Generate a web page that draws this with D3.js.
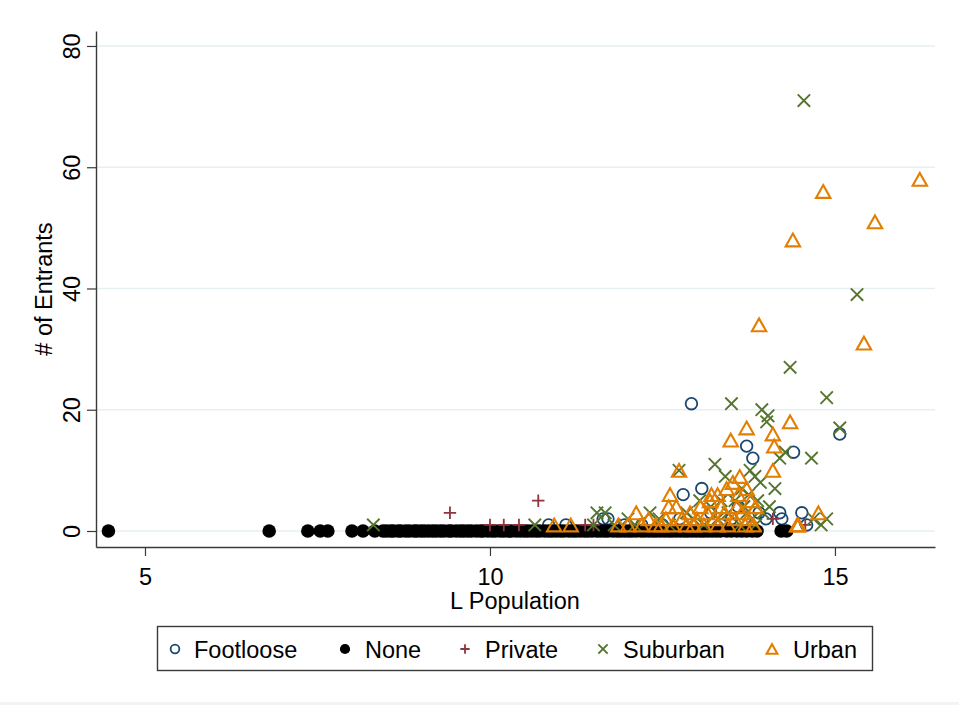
<!DOCTYPE html>
<html>
<head>
<meta charset="utf-8">
<script src="https://cdn.jsdelivr.net/npm/d3@7"></script>
<style>
  html, body { margin: 0; padding: 0; background: #ffffff; }
  svg { display: block; font-family: "Liberation Sans", Arial, Helvetica, sans-serif; }
</style>
</head>
<body>
<svg id="chart" width="959" height="705"></svg>
<script>
// Categories in drawing order
const categories = ["Footloose", "None", "Private", "Suburban", "Urban"];

// [log population, number of entrants]
const footloose = [
  [10.85,1],[11.1,1],[11.64,2],[11.71,2],[11.95,1],[12.2,1],[12.5,1],[12.75,2],
  [12.8,6],[12.92,21],[13.0,1],[13.07,7],[13.2,3],[13.35,1],[13.5,2],[13.6,4],
  [13.72,14],[13.81,12],[13.9,3],[14.0,2],[14.2,3],[14.23,2],[14.4,13],[14.52,3],
  [14.59,1],[15.07,16]
];

// "None" markets all have zero entrants
const noneX = [
  4.47, 6.8, 7.36, 7.54, 7.65, 8.0, 8.16, 8.33,
  8.45, 8.5, 8.56, 8.6, 8.67, 8.71, 8.78, 8.83, 8.9, 8.94, 9.0, 9.05, 9.11, 9.17,
  9.22, 9.28, 9.33, 9.4, 9.44, 9.51, 9.57, 9.62, 9.68, 9.73, 9.8, 9.86, 9.9, 9.97,
  10.03, 10.08, 10.15, 10.2, 10.26, 10.31, 10.38, 10.44, 10.5, 10.55, 10.61, 10.67,
  10.72, 10.79, 10.85, 10.9, 10.96, 11.02, 11.07, 11.14, 11.2, 11.25, 11.31, 11.37,
  11.42, 11.48, 11.55, 11.6, 11.66, 11.71, 11.78, 11.84, 11.89, 11.95, 12.01, 12.06,
  12.12, 12.19, 12.24, 12.3, 12.36, 12.41, 12.47, 12.53, 12.59, 12.64, 12.7, 12.76,
  12.82, 12.87, 12.93, 12.99, 13.05, 13.1, 13.16, 13.22, 13.28, 13.34, 13.43, 13.5,
  13.58, 13.65, 13.72, 13.8, 13.87, 14.22, 14.3
];

const privateMk = [
  [9.42,3],[10.0,1],[10.2,1],[10.42,1],[10.7,5],[11.38,1],[11.5,1],[14.1,2],[14.57,1]
];

const suburban = [
  [8.31,1],[10.65,1],[11.5,1],[11.55,3],[11.67,3],[11.8,1],[12.0,2],[12.1,1],
  [12.32,3],[12.45,2],[12.6,1],[12.74,10],[12.85,3],[12.95,2],[13.04,5],[13.1,1],
  [13.2,4],[13.26,11],[13.3,2],[13.35,5],[13.41,9],[13.45,3],[13.5,21],[13.55,5],
  [13.62,1],[13.65,7],[13.68,4],[13.72,3],[13.75,6],[13.77,10],[13.8,2],[13.84,9],
  [13.85,1],[13.88,5],[13.92,8],[13.94,20],[13.96,3],[14.01,18],[14.03,19],[14.05,4],
  [14.13,7],[14.2,12],[14.28,13],[14.35,27],[14.55,71],[14.66,12],[14.69,2],[14.8,1],
  [14.88,2],[14.88,22],[15.07,17],[15.32,39]
];

const urban = [
  [10.93,1],[11.17,1],[11.86,1],[12.0,1],[12.12,3],[12.2,1],[12.3,2],[12.4,1],
  [12.48,1],[12.55,2],[12.59,4],[12.61,6],[12.65,1],[12.7,4],[12.74,10],[12.78,2],
  [12.85,1],[12.9,3],[12.95,1],[13.0,2],[13.05,4],[13.1,1],[13.15,3],[13.19,5],
  [13.21,6],[13.25,2],[13.3,1],[13.3,6],[13.35,4],[13.4,3],[13.43,7],[13.45,1],
  [13.49,15],[13.52,8],[13.55,2],[13.58,4],[13.6,6],[13.62,9],[13.65,3],[13.7,1],
  [13.72,7],[13.72,17],[13.74,2],[13.78,5],[13.82,1],[13.85,4],[13.9,34],[14.1,10],
  [14.1,16],[14.12,14],[14.35,18],[14.39,48],[14.45,1],[14.47,1],[14.76,3],[14.83,56],
  [15.42,31],[15.58,51],[16.23,58]
];

const xTicks = [5, 10, 15];
const yTicks = [0, 20, 40, 60, 80];

const colors = {
  Footloose: "#1a476f",
  None: "#000000",
  Private: "#90353b",
  Suburban: "#55752f",
  Urban: "#e37e00"
};

const svg = d3.select("#chart");

// light strip along the bottom edge
svg.append("rect").attr("x", 0).attr("y", 702).attr("width", 959).attr("height", 3).attr("fill", "#f3f3f3");

const x = d3.scaleLinear().domain([4.29, 16.45]).range([96, 935]);
const y = d3.scaleLinear().domain([-2.64, 82.47]).range([547, 31]);

// horizontal grid
svg.append("g").selectAll("line").data(yTicks).join("line")
  .attr("x1", x.range()[0]).attr("x2", x.range()[1])
  .attr("y1", d => y(d)).attr("y2", d => y(d))
  .attr("stroke", "#e6eff2").attr("stroke-width", 1.6);

// axes
const yAxis = svg.append("g").attr("transform", "translate(96,0)")
  .call(d3.axisLeft(y).tickValues(yTicks).tickSize(9).tickSizeOuter(0).tickFormat(d3.format("d")));
yAxis.select(".domain").attr("stroke", "#3a3a3a").attr("stroke-width", 1.4);
yAxis.selectAll(".tick line").attr("stroke", "#3a3a3a").attr("stroke-width", 1.2);
yAxis.selectAll(".tick text")
  .attr("transform", "rotate(-90)")
  .attr("x", 0).attr("y", -16).attr("dy", null)
  .attr("text-anchor", "middle")
  .attr("font-size", 23.5).attr("fill", "#000")
  .attr("font-family", "Liberation Sans, Arial, sans-serif");

const xAxis = svg.append("g").attr("transform", "translate(0,547)")
  .call(d3.axisBottom(x).tickValues(xTicks).tickSize(9).tickSizeOuter(0).tickFormat(d3.format("d")));
xAxis.select(".domain").attr("stroke", "#3a3a3a").attr("stroke-width", 1.4);
xAxis.selectAll(".tick line").attr("stroke", "#3a3a3a").attr("stroke-width", 1.2);
xAxis.selectAll(".tick text")
  .attr("y", 38).attr("dy", null)
  .attr("font-size", 23.5).attr("fill", "#000")
  .attr("font-family", "Liberation Sans, Arial, sans-serif");

// axis titles
svg.append("text")
  .attr("transform", "translate(52,289) rotate(-90)")
  .attr("text-anchor", "middle").attr("font-size", 23.5).attr("fill", "#000")
  .text("# of Entrants");
svg.append("text")
  .attr("x", 515).attr("y", 609)
  .attr("text-anchor", "middle").attr("font-size", 23.5).attr("fill", "#000")
  .text("L Population");

// marker shapes
function drawMarker(g, kind, s) {
  const c = colors[kind];
  if (kind === "Footloose") {
    g.append("circle").attr("r", 5.8 * s).attr("fill", "none").attr("stroke", c).attr("stroke-width", 1.8);
  } else if (kind === "None") {
    g.append("circle").attr("r", 6.8 * s).attr("fill", c);
  } else if (kind === "Private") {
    const h = 6.2 * s;
    g.append("path").attr("d", `M${-h},0H${h}M0,${-h}V${h}`).attr("stroke", c).attr("stroke-width", 1.8).attr("fill", "none");
  } else if (kind === "Suburban") {
    const h = 6.2 * s;
    g.append("path").attr("d", `M${-h},${-h}L${h},${h}M${-h},${h}L${h},${-h}`).attr("stroke", c).attr("stroke-width", 1.9).attr("fill", "none");
  } else {
    const w = 7.2 * s, hh = 6.4 * s;
    g.append("path").attr("d", `M0,${-hh}L${w},${hh}L${-w},${hh}Z`).attr("stroke", c).attr("stroke-width", 2.1).attr("fill", "none").attr("stroke-linejoin", "miter");
  }
}

const seriesData = {
  Footloose: footloose,
  None: noneX.map(v => [v, 0]),
  Private: privateMk,
  Suburban: suburban,
  Urban: urban
};

const plot = svg.append("g");
categories.forEach(cat => {
  const g = plot.append("g").attr("class", "series-" + cat);
  seriesData[cat].forEach(d => {
    const m = g.append("g").attr("transform", `translate(${x(d[0])},${y(d[1])})`);
    drawMarker(m, cat, 1);
  });
});

// legend
const legend = svg.append("g");
legend.append("rect").attr("x", 157.5).attr("y", 626.5).attr("width", 715).attr("height", 44)
  .attr("fill", "#fff").attr("stroke", "#3a3a3a").attr("stroke-width", 1.4);
const legendPos = [
  { cat: "Footloose", mx: 175, tx: 194 },
  { cat: "None", mx: 345, tx: 365 },
  { cat: "Private", mx: 465, tx: 485 },
  { cat: "Suburban", mx: 603, tx: 623 },
  { cat: "Urban", mx: 772, tx: 793 }
];
legendPos.forEach(p => {
  const m = legend.append("g").attr("transform", `translate(${p.mx},649)`);
  drawMarker(m, p.cat, 0.75);
  legend.append("text").attr("x", p.tx).attr("y", 657.5)
    .attr("font-size", 23.5).attr("fill", "#000").text(p.cat);
});
</script>
</body>
</html>
